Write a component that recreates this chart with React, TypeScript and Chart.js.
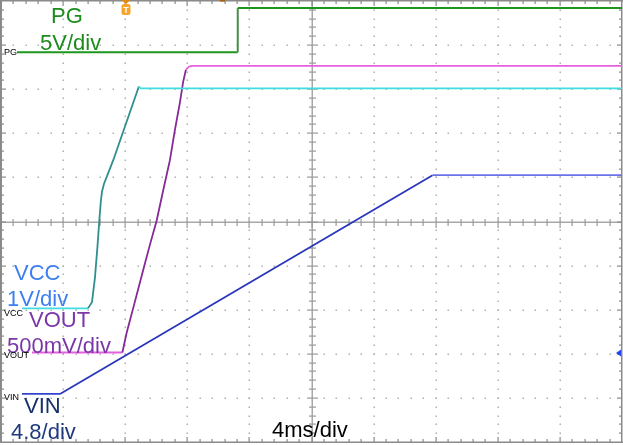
import { useEffect, useRef } from "react";
import { Chart, registerables } from "chart.js";

Chart.register(...registerables);

// Time axis: 4 ms/div, 10 divisions. Vertical: screen divisions 0..10.
const timeMsPG = [1.03, 15.25, 15.25, 40];
const divPG = [8.84, 8.84, 9.84, 9.84];

const timeMsVCC = [1.35, 5.6, 5.86, 6.05, 6.21, 6.33, 6.42, 6.5, 6.63, 7.23, 8.88, 9.01, 40];
const divVCC = [3.03, 3.03, 3.17, 3.72, 4.42, 5.01, 5.42, 5.67, 5.85, 6.39, 8.06, 8.02, 8.02];

const timeMsVOUT = [2.0, 7.82, 8.09, 8.51, 9.16, 9.59, 10.02, 10.45, 10.88, 11.2, 11.52, 11.73, 11.91, 12.1, 12.29, 40];
const divVOUT = [2.03, 2.03, 2.47, 3.03, 3.9, 4.47, 5.01, 5.71, 6.39, 7.07, 7.69, 8.16, 8.44, 8.51, 8.53, 8.53];

const timeMsVIN = [1.35, 3.8, 27.8, 40];
const divVIN = [1.09, 1.09, 6.05, 6.05];

const X_MAX = 40;
const Y_MAX = 10;
const X_DIVS = 10;
const Y_DIVS = 10;

const FONT = '"Liberation Sans", Arial, sans-serif';

function pts(xs: number[], ys: number[]) {
  return xs.map((x, i) => ({ x, y: ys[i] }));
}

function segColor(flat: string, rise: string, top?: string) {
  return (ctx: any) => {
    const dy = Math.abs(ctx.p1.parsed.y - ctx.p0.parsed.y);
    if (dy < 0.1) {
      if (top && ctx.p0.parsed.y > 5) return top;
      return flat;
    }
    return rise;
  };
}

const gridPlugin = {
  id: "scopeGrid",
  beforeDatasetsDraw(chart: any) {
    const { ctx, chartArea, scales } = chart;
    const { left, right, top, bottom } = chartArea;
    const xs = scales.x;
    const ys = scales.y;
    const xStep = X_MAX / X_DIVS;
    const yStep = Y_MAX / Y_DIVS;
    ctx.save();
    // dotted grid
    ctx.fillStyle = "#b0b0b0";
    for (let i = 1; i < X_DIVS; i++) {
      if (i === X_DIVS / 2) continue;
      const px = Math.round(xs.getPixelForValue(i * xStep));
      for (let j = 1; j < Y_DIVS * 5; j++) {
        const py = Math.round(ys.getPixelForValue((j * yStep) / 5));
        ctx.fillRect(px - 0.5, py - 0.5, 1.5, 1.5);
      }
    }
    for (let i = 1; i < Y_DIVS; i++) {
      if (i === Y_DIVS / 2) continue;
      const py = Math.round(ys.getPixelForValue(i * yStep));
      for (let j = 1; j < X_DIVS * 5; j++) {
        const px = Math.round(xs.getPixelForValue((j * xStep) / 5));
        ctx.fillRect(px - 0.5, py - 0.5, 1.5, 1.5);
      }
    }
    // center lines with ticks
    const cx = Math.round(xs.getPixelForValue(X_MAX / 2));
    const cy = Math.round(ys.getPixelForValue(Y_MAX / 2));
    ctx.fillStyle = "#a8a8a8";
    ctx.fillRect(cx - 0.5, top, 1.5, bottom - top);
    ctx.fillRect(left, cy - 0.5, right - left, 1.5);
    ctx.fillStyle = "#9a9a9a";
    for (let j = 1; j < Y_DIVS * 5; j++) {
      const py = Math.round(ys.getPixelForValue((j * yStep) / 5));
      const len = j % 5 === 0 ? 5 : 3;
      ctx.fillRect(cx - len, py - 0.5, 2 * len + 1, 1.2);
    }
    for (let j = 1; j < X_DIVS * 5; j++) {
      const px = Math.round(xs.getPixelForValue((j * xStep) / 5));
      const len = j % 5 === 0 ? 5 : 3;
      ctx.fillRect(px - 0.5, cy - len, 1.2, 2 * len + 1);
    }
    // border with inward ticks
    ctx.fillStyle = "#8a8a8a";
    ctx.fillRect(left - 1, top - 1, right - left + 2, 1.5);
    ctx.fillRect(left - 1, bottom - 0.5, right - left + 2, 1.5);
    ctx.fillRect(left - 1, top - 1, 2, bottom - top + 2);
    ctx.fillRect(right - 1, top - 1, 1.5, bottom - top + 2);
    for (let j = 1; j < X_DIVS * 5; j++) {
      const px = Math.round(xs.getPixelForValue((j * xStep) / 5));
      const len = j % 5 === 0 ? 5 : 3;
      ctx.fillRect(px - 0.5, top, 1.2, len);
      ctx.fillRect(px - 0.5, bottom - len, 1.2, len);
    }
    for (let j = 1; j < Y_DIVS * 5; j++) {
      const py = Math.round(ys.getPixelForValue((j * yStep) / 5));
      const len = j % 5 === 0 ? 5 : 3;
      ctx.fillRect(left, py - 0.5, len, 1.2);
      ctx.fillRect(right - len, py - 0.5, len, 1.2);
    }
    ctx.restore();
  },
  afterDatasetsDraw(chart: any) {
    const { ctx, chartArea } = chart;
    const { right } = chartArea;
    ctx.save();
    ctx.textBaseline = "alphabetic";
    ctx.textAlign = "left";
    const big = `22px ${FONT}`;
    const text = (s: string, x: number, y: number, c: string, f = big) => {
      ctx.font = f;
      ctx.fillStyle = c;
      ctx.fillText(s, x, y);
    };
    text("PG", 51, 23, "#1d8c1d");
    text("5V/div", 40, 50, "#1d8c1d");
    text("VCC", 14, 280, "#3d7ff0");
    text("1V/div", 7, 306, "#3d7ff0");
    text("VOUT", 29, 327, "#7b36a8");
    text("500mV/div", 7, 353, "#7b36a8");
    text("VIN", 24, 413, "#17306c");
    text("4.8/div", 11, 439, "#1f3a7c");
    text("4ms/div", 272, 437, "#000000");

    const small = `9px ${FONT}`;
    text("PG", 4, 55, "#000000", small);
    text("VCC", 4, 316, "#000000", small);
    text("VOUT", 4, 358, "#000000", small);
    text("VIN", 4, 400, "#000000", small);

    // trigger marker
    ctx.fillStyle = "#e08a10";
    ctx.beginPath();
    ctx.moveTo(121.5, 0);
    ctx.lineTo(130.5, 0);
    ctx.lineTo(126, 4);
    ctx.closePath();
    ctx.fill();
    ctx.fillStyle = "#f7a52a";
    ctx.beginPath();
    (ctx as any).roundRect(121.5, 4, 9, 11, 2.5);
    ctx.fill();
    ctx.fillStyle = "#ffffff";
    ctx.font = `bold 9px ${FONT}`;
    ctx.textAlign = "center";
    ctx.fillText("T", 126, 13);
    ctx.fillStyle = "#a86010";
    ctx.fillRect(220, 0, 5, 1.5);

    // trigger level arrow
    ctx.fillStyle = "#2244ee";
    ctx.beginPath();
    ctx.moveTo(right - 6, 353);
    ctx.lineTo(right - 1, 349.5);
    ctx.lineTo(right - 1, 356.5);
    ctx.closePath();
    ctx.fill();
    ctx.restore();
  },
};

export default function App() {
  const ref = useRef<HTMLCanvasElement | null>(null);
  useEffect(() => {
    document.body.style.margin = "0";
    const canvas = ref.current!;
    const chart = new Chart(canvas, {
      type: "line",
      data: {
        datasets: [
          {
            label: "VIN",
            data: pts(timeMsVIN, divVIN),
            borderWidth: 1.8,
            borderColor: "#2a36c0",
            segment: { borderColor: segColor("#3344cc", "#2a36bb", "#6a72ea") },
          },
          {
            label: "VCC",
            data: pts(timeMsVCC, divVCC),
            borderWidth: 1.8,
            borderColor: "#3ad8de",
            segment: { borderColor: segColor("#3fdde3", "#2f8f8f") },
          },
          {
            label: "VOUT",
            data: pts(timeMsVOUT, divVOUT),
            borderWidth: 1.8,
            borderColor: "#e860dc",
            segment: { borderColor: segColor("#e65fdc", "#852a98") },
          },
          {
            label: "PG",
            data: pts(timeMsPG, divPG),
            borderWidth: 2,
            borderColor: "#44d844",
            segment: { borderColor: segColor("#44d844", "#4a8a4a", "#1e961e") },
          },
        ] as any,
      },
      options: {
        animation: false,
        responsive: false,
        devicePixelRatio: 1,
        parsing: true as any,
        layout: { padding: { left: 1, top: 1, right: 1, bottom: 3 } },
        elements: { point: { radius: 0 }, line: { tension: 0 } },
        plugins: { legend: { display: false }, tooltip: { enabled: false } },
        scales: {
          x: { type: "linear", min: 0, max: X_MAX, display: false },
          y: { type: "linear", min: 0, max: Y_MAX, display: false },
        },
      },
      plugins: [gridPlugin],
    });
    return () => chart.destroy();
  }, []);
  return (
    <div style={{ position: "fixed", left: 0, top: 0, width: 623, height: 445, background: "#fff" }}>
      <canvas ref={ref} width={623} height={445} style={{ width: 623, height: 445, display: "block" }} />
    </div>
  );
}
